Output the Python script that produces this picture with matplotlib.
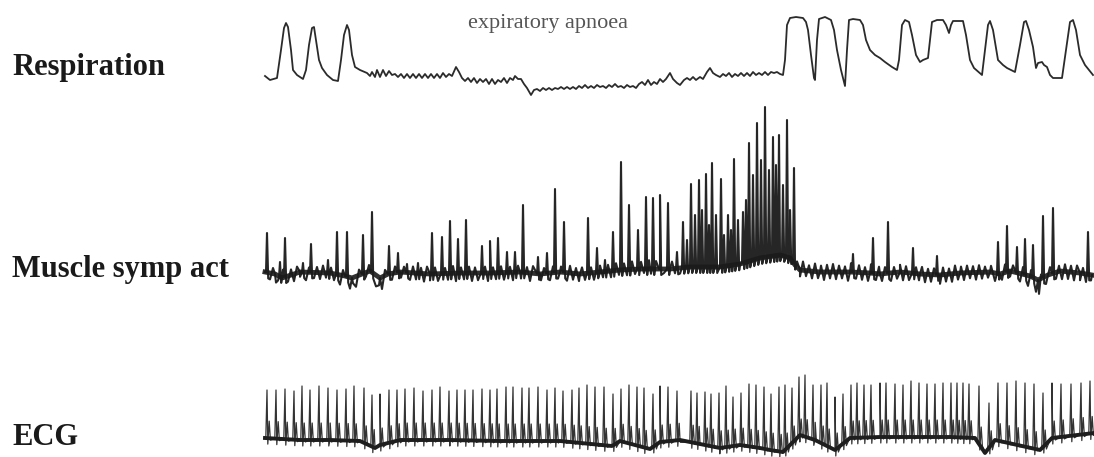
import numpy as np
import matplotlib.pyplot as plt

# values (x = time position, y = trace level, screen units)
resp_x = [265, 270, 277, 281, 284, 286, 288, 291, 293, 297, 303, 306, 309, 312, 314, 316, 319,
          322, 327, 333, 338, 341, 344, 347, 349, 352, 355, 360, 367, 370, 372, 375, 377,
          380, 383, 386, 389, 392, 395, 398, 401, 404, 407, 410, 413, 416, 419, 422, 425, 428,
          431, 434, 437, 440, 443, 446, 449, 452, 456, 459, 462, 465, 468, 471, 474, 477, 480,
          483, 486, 489, 492, 495, 498, 501, 504, 507, 510, 513, 515, 518, 521, 524, 527, 531,
          534, 537, 540, 543, 546, 549, 552, 555, 558, 561, 564, 567, 570, 573, 576, 579, 582,
          585, 588, 591, 594, 597, 600, 603, 606, 609, 612, 615, 618, 621, 624, 627, 630, 633,
          636, 639, 642, 645, 648, 651, 654, 657, 660, 663, 666, 670, 673, 677, 680, 684, 687,
          690, 693, 696, 700, 703, 707, 710, 713, 716, 720, 723, 726, 729, 732, 735, 738, 741,
          744, 747, 750, 753, 756, 759, 762, 765, 768, 771, 774, 777, 780, 783, 785, 787, 790,
          796, 803, 806, 808, 811, 814, 815, 817, 819, 825, 831, 834, 837, 841, 845, 847, 849,
          853, 860, 863, 866, 870, 875, 880, 885, 892, 897, 899, 902, 905, 909, 912, 916, 920,
          923, 928, 930, 932, 937, 943, 946, 949, 951, 953, 963, 966, 970, 974, 982, 985, 988,
          990, 993, 998, 1003, 1007, 1015, 1020, 1024, 1026, 1029, 1033, 1036, 1038, 1042,
          1044, 1047, 1050, 1053, 1062, 1066, 1070, 1073, 1076, 1080, 1085, 1093]
resp_y = [76, 80, 78, 50, 28, 23, 27, 50, 70, 75, 79, 70, 45, 28, 27, 40, 60,
          68, 75, 80, 81, 60, 35, 25, 30, 55, 67, 70, 73, 76, 72, 77, 70,
          77, 70, 76, 71, 75, 74, 77, 74, 78, 74, 78, 74, 78, 74, 78, 74, 78,
          74, 78, 74, 78, 73, 77, 74, 76, 67, 72, 78, 81, 78, 82, 78, 83, 79,
          82, 79, 84, 79, 84, 80, 82, 78, 83, 78, 80, 76, 79, 79, 84, 88, 95,
          90, 89, 91, 88, 90, 88, 90, 88, 89, 87, 89, 87, 89, 87, 89, 86, 88,
          85, 88, 86, 88, 85, 87, 86, 88, 85, 87, 84, 87, 86, 88, 85, 87, 86,
          88, 84, 82, 85, 80, 85, 82, 84, 79, 82, 79, 73, 79, 83, 85, 80, 78,
          80, 77, 80, 77, 79, 72, 68, 73, 75, 77, 74, 76, 73, 77, 74, 76, 73,
          76, 73, 76, 72, 75, 73, 75, 72, 75, 72, 73, 72, 74, 75, 60, 25, 18,
          17, 18, 22, 30, 55, 78, 80, 40, 19, 17, 20, 30, 50, 70, 86, 50, 20,
          19, 20, 25, 40, 50, 55, 58, 62, 67, 70, 60, 25, 20, 22, 35, 55, 62,
          60, 58, 40, 22, 20, 20, 25, 33, 25, 21, 21, 35, 60, 68, 75, 50, 25,
          21, 30, 60, 65, 68, 72, 45, 22, 21, 30, 47, 68, 63, 62,
          65, 67, 75, 78, 78, 50, 22, 20, 30, 55, 65, 75]

msna_base_x = [265, 275, 282, 300, 330, 345, 352, 362, 370, 380, 388, 400, 430, 460, 490, 520,
               540, 560, 580, 600, 620, 640, 660, 670, 690, 720, 740, 760, 780, 790, 795, 800,
               820, 850, 870, 880, 900, 920, 940, 960, 990, 1000, 1010, 1030, 1038, 1048, 1060,
               1080, 1092]
msna_base_y = [272, 274, 278, 272, 273, 276, 278, 274, 271, 278, 274, 272, 274, 273, 273, 272,
               274, 272, 274, 272, 270, 269, 269, 269, 267, 267, 264, 258, 255, 258, 265, 270,
               272, 272, 273, 274, 272, 274, 275, 273, 272, 274, 271, 276, 280, 275, 271,
               273, 275]
msna_spike_x = [267, 280, 285, 303, 311, 328, 337, 347, 363, 372, 389, 398, 407, 418, 432, 442,
                450, 458, 466, 482, 490, 498, 507, 515, 523, 538, 547, 555, 564, 588, 597, 605,
                613, 621, 629, 638, 646, 653, 660, 668, 677, 683, 687, 691, 695, 699, 702, 706,
                709, 712, 716, 721, 724, 728, 731, 734, 738, 743, 746, 749, 753, 757, 761, 765,
                769, 773, 776, 779, 783, 787, 790, 794, 853, 873, 888, 913, 937, 998, 1007,
                1017, 1025, 1033, 1043, 1053, 1088]
msna_spike_y = [233, 262, 238, 263, 244, 260, 232, 232, 235, 212, 246, 253, 264, 263, 233, 237,
                221, 239, 220, 246, 241, 238, 252, 252, 205, 257, 253, 189, 222, 218, 248, 260,
                232, 162, 205, 230, 197, 198, 195, 203, 252, 222, 240, 184, 215, 180, 210, 174,
                225, 163, 215, 179, 235, 215, 230, 159, 220, 212, 200, 143, 175, 123, 160, 107,
                170, 137, 165, 135, 185, 120, 210, 168, 254, 238, 222, 248, 256, 242, 226,
                247, 239, 245, 216, 208, 232]
# small up/down deflections that make up the noisy baseline band
msna_noise_x = [270, 273, 276, 278, 283, 288, 291, 294, 297, 300, 306, 309, 314, 317, 320, 323,
                326, 331, 334, 340, 343, 350, 353, 356, 359, 366, 369, 376, 379, 382, 385, 392,
                395, 401, 404, 410, 413, 416, 421, 424, 427, 430, 435, 438, 445, 448, 453, 456,
                461, 464, 469, 472, 475, 478, 485, 488, 493, 496, 501, 504, 510, 513, 518, 521,
                527, 530, 533, 541, 544, 550, 553, 558, 561, 567, 570, 573, 576, 579, 582, 585,
                591, 594, 600, 603, 608, 611, 616, 619, 624, 627, 632, 635, 641, 644, 649, 651,
                656, 664, 672, 675, 680, 797, 800, 803, 806, 809, 812, 815, 818, 821, 824, 827,
                830, 833, 836, 839, 842, 845, 848, 851, 856, 859, 862, 865, 868, 871, 876, 879,
                882, 885, 891, 894, 897, 900, 903, 906, 909, 916, 919, 922, 925, 928, 931, 934,
                940, 943, 946, 949, 952, 955, 958, 961, 964, 967, 970, 973, 976, 979, 982, 985,
                988, 991, 995, 1002, 1005, 1010, 1013, 1020, 1023, 1028, 1031, 1036, 1039, 1041,
                1046, 1050, 1056, 1059, 1062, 1065, 1068, 1071, 1074, 1077, 1080, 1083, 1086,
                1091]
msna_noise_y = [281, 266, 283, 279, 263, 280, 266, 282, 265, 279, 283, 267, 280, 266, 281, 264,
                279, 266, 281, 285, 266, 287, 280, 286, 266, 278, 265, 287, 283, 288, 266, 281,
                265, 280, 266, 282, 265, 281, 266, 283, 264, 281, 265, 282, 266, 281, 264, 283,
                266, 281, 265, 283, 266, 282, 265, 283, 266, 281, 265, 282, 266, 283, 265, 281,
                266, 283, 264, 281, 266, 282, 265, 281, 266, 283, 264, 281, 266, 282, 265, 281,
                266, 282, 265, 280, 265, 281, 264, 279, 265, 280, 263, 279, 264, 278, 262, 279,
                263, 278, 264, 279, 280, 266, 281, 262, 280, 266, 282, 263, 281, 265, 283, 264,
                281, 263, 282, 265, 281, 266, 284, 262, 281, 264, 282, 266, 283, 262, 281, 264,
                282, 265, 283, 266, 281, 264, 283, 265, 282, 265, 281, 264, 283, 266, 282, 265,
                284, 264, 282, 266, 283, 263, 281, 265, 282, 264, 280, 265, 282, 264, 281, 266,
                280, 265, 283, 281, 263, 280, 265, 283, 264, 286, 265, 289, 291, 268,
                283, 264, 281, 266, 283, 264, 282, 265, 283, 264, 282, 266, 283,
                280]

ecg_base_x = [265, 300, 330, 360, 375, 380, 400, 450, 500, 560, 612, 620, 650, 660, 680, 700,
              720, 740, 760, 770, 783, 790, 800, 815, 835, 850, 880, 950, 975, 985, 995, 1040,
              1052, 1094]
ecg_base_y = [438, 440, 440, 441, 448, 445, 440, 440, 441, 441, 446, 441, 449, 442, 440, 444,
              448, 445, 448, 450, 452, 445, 435, 440, 450, 438, 437, 437, 438, 453, 440, 450,
              438, 433]
ecg_r_x = [267, 276, 285, 294, 302, 310, 319, 328, 337, 346, 354, 364, 372, 380, 389, 397, 405,
           414, 423, 432, 440, 449, 457, 465, 473, 482, 490, 497, 506, 513, 522, 529, 538, 547,
           555, 563, 572, 579, 587, 595, 604, 613, 621, 629, 637, 644, 653, 660, 668, 677, 691,
           697, 705, 711, 719, 726, 733, 741, 749, 756, 764, 771, 779, 785, 792, 799, 805, 813,
           821, 827, 835, 843, 851, 857, 864, 871, 880, 886, 895, 903, 911, 919, 927, 935, 943,
           951, 957, 963, 969, 979, 989, 998, 1007, 1016, 1025, 1034, 1043, 1052, 1061, 1071,
           1081, 1090]
ecg_r_y = [390, 390, 389, 391, 386, 390, 386, 388, 390, 389, 386, 388, 395, 394, 390, 390, 389,
           388, 391, 390, 387, 391, 390, 390, 390, 389, 390, 389, 387, 387, 388, 388, 387, 390,
           388, 391, 390, 388, 385, 387, 387, 394, 389, 385, 387, 388, 394, 386, 387, 391, 391,
           393, 392, 394, 393, 386, 397, 393, 384, 385, 387, 394, 387, 385, 388, 377, 375, 385,
           385, 383, 397, 394, 385, 383, 385, 385, 383, 383, 384, 385, 381, 383, 384, 384, 383,
           383, 383, 383, 384, 386, 403, 383, 383, 381, 383, 384, 393, 383, 384, 384, 383,
           381]

labels = ["Respiration", "Muscle symp act", "ECG"]
label_y = [75, 277, 445]
annotation = "expiratory apnoea"

ink = "#2b2b2b"

fig = plt.figure(figsize=(10.94, 4.57), dpi=100)
ax = fig.add_axes([0, 0, 1, 1])
ax.set_xlim(0, 1094)
ax.set_ylim(457, 0)
ax.axis("off")

# respiration
ax.plot(resp_x, resp_y, color=ink, lw=1.3, solid_joinstyle="round")

# muscle sympathetic activity: noisy baseline band + bursts
sx = np.array(msna_spike_x, dtype=float)
sb = np.interp(sx, msna_base_x, msna_base_y)
nx = np.array(msna_noise_x, dtype=float)
nb = np.interp(nx, msna_base_x, msna_base_y)
ny = nb + (np.array(msna_noise_y) - 273) * 0.8
px = np.concatenate([msna_base_x, sx - 1.0, sx, sx + 1.2, nx])
py = np.concatenate([msna_base_y, sb, msna_spike_y, sb + 6, ny])
order = np.argsort(px, kind="stable")
ax.plot(px[order], py[order], color="#262626", lw=1.5)
ax.plot(msna_base_x, msna_base_y, color="#1a1a1a", lw=3.5, alpha=0.9)

# ECG: R spikes + smaller secondary wave on a wandering baseline
rx = np.array(ecg_r_x, dtype=float)
rb = np.interp(rx, ecg_base_x, ecg_base_y)
ex = np.concatenate([ecg_base_x, rx - 1.2, rx, rx + 0.8, rx + 2.2, rx + 3.4])
ey = np.concatenate([ecg_base_y, rb, ecg_r_y, rb + 6, rb - 17, rb + 2])
order = np.argsort(ex, kind="stable")
ax.plot(ex[order], ey[order], color="#333333", lw=0.9)
ax.plot(ecg_base_x, ecg_base_y, color="#1e1e1e", lw=2.8)

for lab, y in zip(labels, label_y):
    ax.text(12, y, lab, fontfamily="Liberation Serif", fontweight="bold", fontsize=22,
            color="#1a1a1a", va="baseline", ha="left")
ax.text(548, 28, annotation, fontfamily="Liberation Serif", fontsize=16, color="#555555",
        va="baseline", ha="center")

fig.savefig("out.png", dpi=100, facecolor="white")
